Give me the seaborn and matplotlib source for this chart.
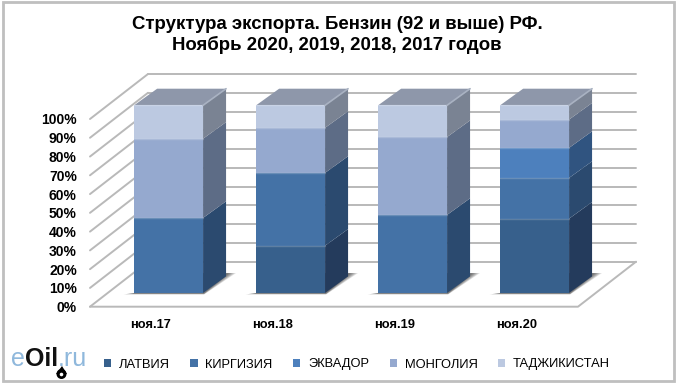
import matplotlib
matplotlib.use('Agg')
import matplotlib.pyplot as plt
from matplotlib.patches import Polygon, Rectangle, Circle
from matplotlib.transforms import IdentityTransform
import numpy as np
import pandas as pd
import seaborn as sns

# values, percent
months = ['ноя.17', 'ноя.18', 'ноя.19', 'ноя.20']
countries = ['ЛАТВИЯ', 'КИРГИЗИЯ', 'ЭКВАДОР', 'МОНГОЛИЯ', 'ТАДЖИКИСТАН']
latvia = [0, 25.2, 0, 39.6]
kirgizia = [40.0, 38.8, 41.6, 21.7]
ecuador = [0, 0, 0, 16.0]
mongolia = [42.2, 24.0, 41.5, 15.1]
tajikistan = [17.8, 12.0, 16.9, 7.6]
y_ticks = list(range(0, 101, 10))

front_colors = ['#37608c', '#4472a6', '#4d80bd', '#95a9cf', '#bcc9e1']
side_colors = ['#243b5c', '#2b4a6f', '#305480', '#5d6c86', '#7a8393']
top_color = '#8e97aa'
grid_color = '#b9b9b9'

W, H = 680, 385
BAR_WIDTH = 0.565

sns.set_theme(style='white')
plt.rcParams['font.family'] = ['Liberation Sans', 'DejaVu Sans']

fig = plt.figure(figsize=(W / 100, H / 100), dpi=100)


def px_rect(left, right, bottom, top):
    return [left / W, (H - bottom) / H, (right - left) / W, (bottom - top) / H]


# wall and floor, their front plane holds the tick labels
ax = fig.add_axes(px_rect(90, 578, 306.7, 119))
ax.set_xlim(-0.5, 3.5)
ax.set_ylim(0, 100)
ux = 122.0
uy = 187.7 / 100
wall_dx = 58 / ux
wall_dy = 45 / uy
for t in y_ticks:
    ax.plot([-0.5, -0.5 + wall_dx], [t, t + wall_dy], color=grid_color, lw=1.4, clip_on=False)
    ax.plot([-0.5 + wall_dx, 3.5 + wall_dx], [t + wall_dy, t + wall_dy], color=grid_color, lw=1.4, clip_on=False)
ax.plot([-0.5, 3.5, 3.5 + wall_dx], [0, 0, wall_dy], color=grid_color, lw=1.4, clip_on=False)
ax.set_xticks(range(len(months)))
ax.set_xticklabels(months, fontsize=9.3, fontweight='bold', color='black')
ax.set_yticks(y_ticks)
ax.set_yticklabels(['%d%%' % t for t in y_ticks], fontsize=10, fontweight='bold', color='black')
ax.tick_params(axis='x', length=0, pad=8.5)
ax.tick_params(axis='y', length=0, pad=9.5)
sns.despine(ax=ax, left=True, bottom=True)

# bars stand a bit behind the floor edge
ax_bars = fig.add_axes(px_rect(107.6, 595.6, 293, 105.3))
ax_bars.patch.set_alpha(0)

series = [latvia, kirgizia, ecuador, mongolia, tajikistan]
cum = np.cumsum(np.array(series), axis=0)
df = pd.DataFrame({
    'month': np.tile(months, len(countries)),
    'country': np.repeat(countries, len(months)),
    'cum': cum.ravel(),
})
sns.barplot(data=df, x='month', y='cum', hue='country', hue_order=countries[::-1],
            order=months, palette=dict(zip(countries, front_colors)), dodge=False,
            width=BAR_WIDTH, saturation=1, linewidth=0, ax=ax_bars, zorder=3)
handles, labels = ax_bars.get_legend_handles_labels()
ax_bars.get_legend().remove()
ax_bars.set_xlim(-0.5, 3.5)
ax_bars.set_ylim(0, 100)
ax_bars.axis('off')

bar_dx = 23 / ux
bar_dy = 16.6 / uy
for i in range(len(months)):
    x0 = i - BAR_WIDTH / 2
    x1 = i + BAR_WIDTH / 2
    # soft shadow on the floor
    for k in np.linspace(0.3, 1, 7):
        ax_bars.add_patch(Polygon([
            (x0 - 11 * k / ux, -1.5 * k / uy), (x1 + 1 / ux, -1.5 * k / uy),
            (x1 + (bar_dx + 10 * k / ux), bar_dy * 1.2),
            (x1, bar_dy * 1.2), (x0, 0),
        ], closed=True, fc='black', ec='none', alpha=0.1, zorder=1, clip_on=False))
    # side faces
    low = 0
    for j in range(len(countries)):
        high = cum[j][i]
        if high > low:
            ax_bars.add_patch(Polygon([
                (x1, low), (x1 + bar_dx, low + bar_dy),
                (x1 + bar_dx, high + bar_dy), (x1, high),
            ], closed=True, fc=side_colors[j], ec='none', zorder=2, clip_on=False))
            ax_bars.plot([x0, x1], [high, high], color='white', alpha=0.2, lw=1, zorder=4, clip_on=False)
        low = high
    # top face with its light bevel
    ax_bars.add_patch(Polygon([
        (x0, 100), (x1, 100), (x1 + bar_dx, 100 + bar_dy), (x0 + bar_dx, 100 + bar_dy),
    ], closed=True, fc=top_color, ec='none', zorder=2, clip_on=False))
    ax_bars.plot([x1, x1 + bar_dx], [100, 100 + bar_dy], color='#a9b2c2', lw=1.2, zorder=4, clip_on=False)

fig.legend(handles[::-1], labels[::-1], ncol=5, loc='center', bbox_to_anchor=(357 / W, (H - 364.5) / H),
           frameon=False, fontsize=9.3, handlelength=0.55, handleheight=0.55, handletextpad=0.6,
           columnspacing=1.6, borderpad=0, labelcolor='black')

fig.text(337 / W, (H - 29) / H, 'Структура экспорта. Бензин (92 и выше) РФ.', ha='center', va='baseline',
         fontsize=13.4, fontweight='bold', color='black')
fig.text(337 / W, (H - 50) / H, 'Ноябрь 2020, 2019, 2018, 2017 годов', ha='center', va='baseline',
         fontsize=13.4, fontweight='bold', color='black')

# logo
fig.text(11.5 / W, (H - 366) / H, 'e', fontsize=18, color='#8fb8dc', va='baseline')
fig.text(25 / W, (H - 366) / H, 'Oil', fontsize=18, color='#111111', va='baseline', fontweight='bold')
fig.text(58 / W, (H - 366) / H, '.ru', fontsize=18, color='#8fb8dc', va='baseline')
fig.add_artist(Polygon([(56, H - 374), (62, H - 366), (67, H - 374)], closed=True, fc='black', ec='none',
                       transform=IdentityTransform()))
fig.add_artist(Circle((61.5, H - 374), 5, fc='black', ec='none', transform=IdentityTransform()))
fig.add_artist(Circle((61.5, H - 374.5), 1.8, fc='white', ec='none', transform=IdentityTransform()))

# outer frame
fig.add_artist(Rectangle((3 / W, (H - 381) / H), 671 / W, 379.5 / H, transform=fig.transFigure,
                         fc='none', ec='#bfbfbf', lw=2))

fig.savefig('out.png', dpi=100)
